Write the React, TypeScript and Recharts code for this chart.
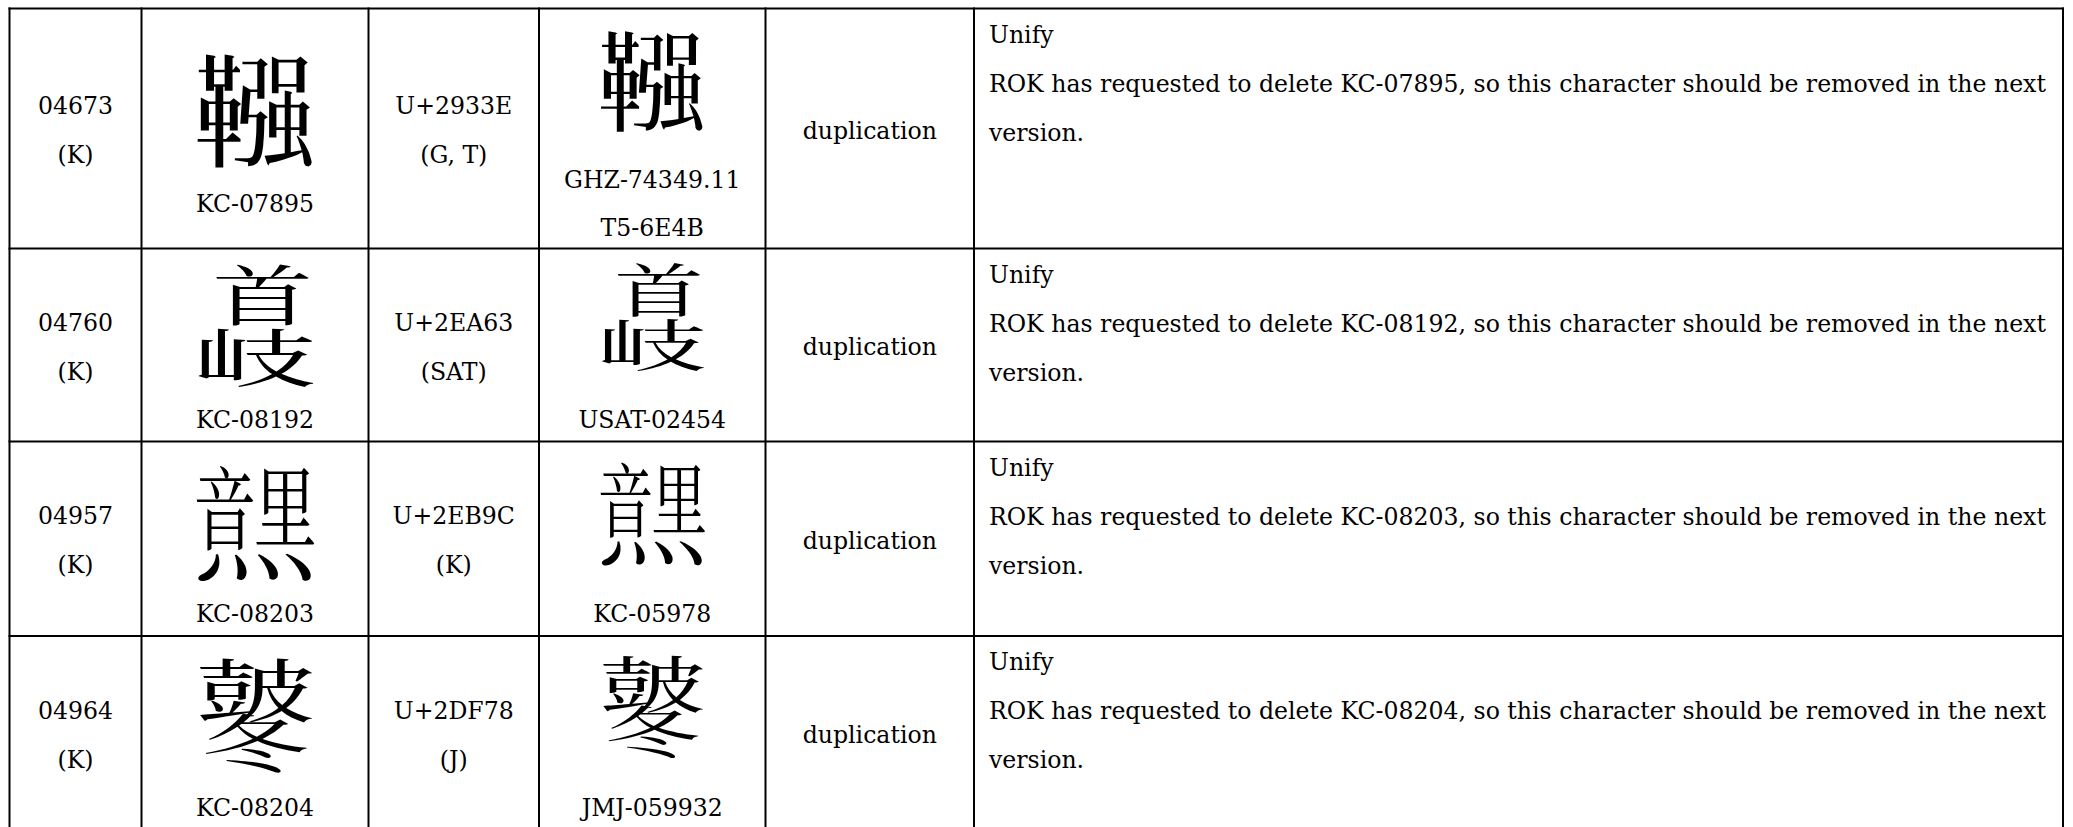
import React from "react";
import { ScatterChart, Scatter, XAxis, YAxis, ReferenceLine } from "recharts";

const W = 2073;
const H = 827;

// table content, one entry per row
const entryIds = ["04673", "04760", "04957", "04964"];
const entrySources = ["(K)", "(K)", "(K)", "(K)"];
const kcSources = ["KC-07895", "KC-08192", "KC-08203", "KC-08204"];
const codePoints = ["U+2933E", "U+2EA63", "U+2EB9C", "U+2DF78"];
const codeSources = ["(G, T)", "(SAT)", "(K)", "(J)"];
const unifiedSources = [["GHZ-74349.11", "T5-6E4B"], ["USAT-02454"], ["KC-05978"], ["JMJ-059932"]];
const reasons = ["duplication", "duplication", "duplication", "duplication"];
const actions = ["Unify", "Unify", "Unify", "Unify"];
const notes = kcSources.map((kc) => [
  `ROK has requested to delete ${kc}, so this character should be removed in the next`,
  "version.",
]);

// the installed fonts have no glyph for the newer code points, so those are
// built from their components (offsets / scales in em)
const glyphParts: Record<string, { ch: string; x: number; y: number; sx: number; sy: number }[]> = {
  "U+2EA63": [
    { ch: "首", x: 0.06, y: -0.24, sx: 0.8, sy: 0.52 },
    { ch: "岐", x: 0, y: 0.25, sx: 1, sy: 0.5 },
  ],
  "U+2EB9C": [
    { ch: "音", x: -0.24, y: -0.1, sx: 0.5, sy: 0.72 },
    { ch: "里", x: 0.24, y: -0.11, sx: 0.5, sy: 0.7 },
    { ch: "灬", x: 0, y: 0.14, sx: 1, sy: 0.72 },
  ],
  "U+2DF78": [
    { ch: "皷", x: 0, y: -0.18, sx: 0.95, sy: 0.55 },
    { ch: "冬", x: 0, y: 0.24, sx: 0.85, sy: 0.5 },
  ],
};

// layout of the grid (px)
const colEdges = [9.5, 141.5, 368.5, 539, 765.5, 974, 2063];
const rowEdges = [8.5, 248.5, 441.5, 636, 830];
const LINE = 49;
const FONT = '"DejaVu Serif", serif';
const CJK = '"Noto Serif CJK TC", "Noto Serif CJK JP", serif';

const glyphOf = (cp: string) => String.fromCodePoint(parseInt(cp.slice(2), 16));

const cells = entryIds.flatMap((_, r) =>
  [0, 1, 2, 3, 4, 5].map((c) => ({
    r,
    c,
    x: c === 5 ? colEdges[5] + 15 : (colEdges[c] + colEdges[c + 1]) / 2,
    y: (rowEdges[r] + rowEdges[r + 1]) / 2,
  }))
);

const Line = ({ x, y, children, anchor = "middle" }: any) => (
  <text x={x} y={y + 10} textAnchor={anchor} fontFamily={FONT} fontSize={23.6} fill="#000">
    {children}
  </text>
);

function Glyph({ cp, x, y, size }: { cp: string; x: number; y: number; size: number }) {
  const parts = glyphParts[cp];
  if (!parts) {
    return (
      <text x={x} y={y} textAnchor="middle" dominantBaseline="central" fontFamily={CJK} fontSize={size} fill="#000">
        {glyphOf(cp)}
      </text>
    );
  }
  return (
    <g>
      {parts.map((p, i) => (
        <text
          key={i}
          transform={`translate(${x + p.x * size}, ${y + p.y * size}) scale(${p.sx}, ${p.sy})`}
          textAnchor="middle"
          dominantBaseline="central"
          fontFamily={CJK}
          fontSize={size}
          fill="#000"
        >
          {p.ch}
        </text>
      ))}
    </g>
  );
}

function Cell(props: any) {
  const { cx, cy, payload } = props;
  const { r, c } = payload;
  const stack = (lines: string[], center: number) =>
    lines.map((t, i) => (
      <Line key={i} x={cx} y={center + (i - (lines.length - 1) / 2) * LINE}>
        {t}
      </Line>
    ));
  if (c === 0) return <g>{stack([entryIds[r], entrySources[r]], cy)}</g>;
  if (c === 2) return <g>{stack([codePoints[r], codeSources[r]], cy)}</g>;
  if (c === 4) return <g>{stack([reasons[r]], cy)}</g>;
  if (c === 1 || c === 3) {
    const labels = c === 1 ? [kcSources[r]] : unifiedSources[r];
    const glyphY = c === 1 ? cy - 23 : cy - 31 - 21 * (labels.length - 1);
    return (
      <g>
        <Glyph cp={codePoints[r]} x={cx} y={glyphY} size={c === 1 ? 126 : 112} />
        {labels.map((t, i) => (
          <Line key={i} x={cx} y={cy + 73 + (i - (labels.length - 1) / 2) * 48}>
            {t}
          </Line>
        ))}
      </g>
    );
  }
  const top = rowEdges[r] + 24;
  return (
    <g>
      {[actions[r], ...notes[r]].map((t, i) => (
        <Line key={i} x={cx} y={top + i * LINE} anchor="start">
          {t}
        </Line>
      ))}
    </g>
  );
}

export default function App() {
  return (
    <div style={{ position: "fixed", left: 0, top: 0, width: W, height: H, background: "#fff" }}>
      <ScatterChart width={W} height={H} margin={{ top: 0, right: 0, bottom: 0, left: 0 }}>
        <XAxis type="number" dataKey="x" domain={[0, W]} allowDataOverflow hide />
        <YAxis type="number" dataKey="y" domain={[0, H]} allowDataOverflow reversed hide />
        {colEdges.map((e) => (
          <ReferenceLine
            key={`c${e}`}
            segment={[{ x: e, y: rowEdges[0] - 1 }, { x: e, y: H }]}
            stroke="#000"
            strokeWidth={2}
            ifOverflow="visible"
          />
        ))}
        {rowEdges
          .filter((e) => e < H)
          .map((e) => (
            <ReferenceLine
              key={`r${e}`}
              segment={[{ x: colEdges[0] - 1, y: e }, { x: colEdges[colEdges.length - 1] + 1, y: e }]}
              stroke="#000"
              strokeWidth={2}
              ifOverflow="visible"
            />
          ))}
        <Scatter data={cells} shape={<Cell />} isAnimationActive={false} />
      </ScatterChart>
    </div>
  );
}
